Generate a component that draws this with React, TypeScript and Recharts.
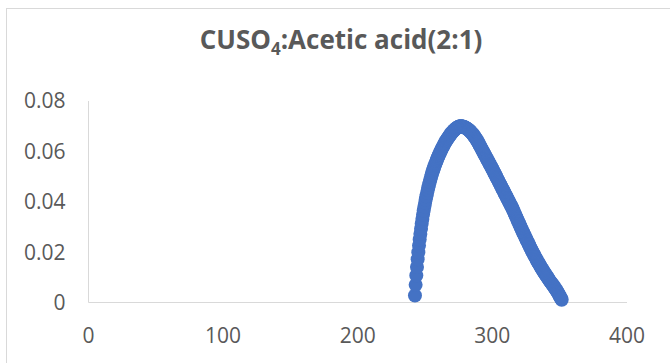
import React from 'react';
import { ScatterChart, Scatter, XAxis, YAxis } from 'recharts';

const xTicks = [0, 100, 200, 300, 400];
const yTicks = [0, 0.02, 0.04, 0.06, 0.08];

const wavelengths = [
  242.5, 243, 243.5, 244, 244.5, 245, 245.5, 246, 246.5, 247, 247.5, 248, 248.5, 249, 249.5, 250,
  250.5, 251, 251.5, 252, 252.5, 253, 253.5, 254, 254.5, 255, 255.5, 256, 256.5, 257, 257.5, 258,
  258.5, 259, 259.5, 260, 260.5, 261, 261.5, 262, 262.5, 263, 263.5, 264, 264.5, 265, 265.5, 266,
  266.5, 267, 267.5, 268, 268.5, 269, 269.5, 270, 270.5, 271, 271.5, 272, 272.5, 273, 273.5, 274,
  274.5, 275, 275.5, 276, 276.5, 277, 277.5, 278, 278.5, 279, 279.5, 280, 280.5, 281, 281.5, 282,
  282.5, 283, 283.5, 284, 284.5, 285, 285.5, 286, 286.5, 287, 287.5, 288, 288.5, 289, 289.5, 290,
  290.5, 291, 291.5, 292, 292.5, 293, 293.5, 294, 294.5, 295, 295.5, 296, 296.5, 297, 297.5, 298,
  298.5, 299, 299.5, 300, 300.5, 301, 301.5, 302, 302.5, 303, 303.5, 304, 304.5, 305, 305.5, 306,
  306.5, 307, 307.5, 308, 308.5, 309, 309.5, 310, 310.5, 311, 311.5, 312, 312.5, 313, 313.5, 314,
  314.5, 315, 315.5, 316, 316.5, 317, 317.5, 318, 318.5, 319, 319.5, 320, 320.5, 321, 321.5, 322,
  322.5, 323, 323.5, 324, 324.5, 325, 325.5, 326, 326.5, 327, 327.5, 328, 328.5, 329, 329.5, 330,
  330.5, 331, 331.5, 332, 332.5, 333, 333.5, 334, 334.5, 335, 335.5, 336, 336.5, 337, 337.5, 338,
  338.5, 339, 339.5, 340, 340.5, 341, 341.5, 342, 342.5, 343, 343.5, 344, 344.5, 345, 345.5, 346,
  346.5, 347, 347.5, 348, 348.5, 349, 349.5, 350, 350.5, 351, 351.5,
];

const absorbance = [
  0.0028, 0.0070, 0.0107, 0.0141, 0.0172, 0.0200, 0.0226, 0.0250, 0.0272, 0.0293, 0.0313, 0.0332, 0.0349, 0.0365, 0.0380, 0.0395,
  0.0409, 0.0422, 0.0435, 0.0447, 0.0458, 0.0469, 0.0479, 0.0489, 0.0499, 0.0508, 0.0517, 0.0525, 0.0533, 0.0541, 0.0548, 0.0555,
  0.0562, 0.0569, 0.0576, 0.0582, 0.0588, 0.0594, 0.0600, 0.0605, 0.0611, 0.0616, 0.0621, 0.0626, 0.0631, 0.0636, 0.0641, 0.0645,
  0.0649, 0.0653, 0.0657, 0.0661, 0.0665, 0.0668, 0.0672, 0.0675, 0.0678, 0.0681, 0.0684, 0.0686, 0.0689, 0.0691, 0.0693, 0.0695,
  0.0697, 0.0698, 0.0699, 0.0700, 0.0700, 0.0700, 0.0699, 0.0699, 0.0698, 0.0697, 0.0696, 0.0694, 0.0693, 0.0691, 0.0689, 0.0687,
  0.0685, 0.0683, 0.0680, 0.0677, 0.0674, 0.0671, 0.0668, 0.0664, 0.0661, 0.0657, 0.0653, 0.0649, 0.0644, 0.0640, 0.0635, 0.0630,
  0.0625, 0.0620, 0.0615, 0.0610, 0.0605, 0.0600, 0.0595, 0.0590, 0.0585, 0.0580, 0.0575, 0.0570, 0.0565, 0.0560, 0.0555, 0.0550,
  0.0545, 0.0540, 0.0535, 0.0530, 0.0525, 0.0519, 0.0514, 0.0509, 0.0504, 0.0498, 0.0493, 0.0488, 0.0483, 0.0477, 0.0472, 0.0467,
  0.0462, 0.0456, 0.0451, 0.0446, 0.0441, 0.0435, 0.0430, 0.0425, 0.0420, 0.0414, 0.0409, 0.0404, 0.0399, 0.0393, 0.0388, 0.0383,
  0.0378, 0.0372, 0.0366, 0.0360, 0.0354, 0.0348, 0.0342, 0.0336, 0.0330, 0.0324, 0.0318, 0.0312, 0.0306, 0.0300, 0.0294, 0.0288,
  0.0282, 0.0276, 0.0271, 0.0265, 0.0259, 0.0253, 0.0248, 0.0242, 0.0237, 0.0231, 0.0226, 0.0220, 0.0215, 0.0209, 0.0204, 0.0199,
  0.0194, 0.0189, 0.0184, 0.0179, 0.0174, 0.0169, 0.0164, 0.0159, 0.0155, 0.0150, 0.0146, 0.0141, 0.0137, 0.0132, 0.0128, 0.0123,
  0.0119, 0.0115, 0.0111, 0.0107, 0.0103, 0.0099, 0.0095, 0.0091, 0.0087, 0.0083, 0.0080, 0.0076, 0.0073, 0.0069, 0.0065, 0.0061,
  0.0057, 0.0053, 0.0049, 0.0045, 0.0040, 0.0036, 0.0031, 0.0026, 0.0021, 0.0016, 0.0011,
];

const data = wavelengths.map((x, i) => ({ x, y: absorbance[i] }));

const MARKER_COLOR = '#4472C4';
const TEXT_COLOR = '#595959';
const AXIS_COLOR = '#D9D9D9';
const FONT = '"Open Sans", sans-serif';

const Dot = (props: any) => {
  if (props.cx == null || props.cy == null) return null;
  return <circle cx={props.cx} cy={props.cy} r={7} fill={MARKER_COLOR} />;
};

export default function App() {
  return (
    <div
      style={{
        position: 'absolute',
        left: 0,
        top: 0,
        width: 670,
        height: 363,
        background: '#fff',
        overflow: 'hidden',
        fontFamily: FONT,
      }}
    >
      <div
        style={{
          position: 'absolute',
          left: 6,
          top: 8,
          width: 700,
          height: 400,
          border: `1px solid ${AXIS_COLOR}`,
        }}
      />
      <div
        style={{
          position: 'absolute',
          left: 6,
          top: 22,
          width: 670,
          textAlign: 'center',
          fontSize: 26,
          lineHeight: '34px',
          fontWeight: 700,
          color: TEXT_COLOR,
          whiteSpace: 'nowrap',
        }}
      >
        CUSO<sub style={{ fontSize: 17, lineHeight: 0 }}>4</sub>:Acetic acid(2:1)
      </div>
      <div style={{ position: 'absolute', left: 0, top: 0 }}>
        <ScatterChart
          width={670}
          height={363}
          margin={{ top: 101, right: 43, bottom: 30.5, left: 0.5 }}
        >
          <XAxis
            type="number"
            dataKey="x"
            domain={[0, 400]}
            ticks={xTicks}
            interval={0}
            tickLine={false}
            tickSize={6}
            tickMargin={20}
            height={30}
            axisLine={{ stroke: AXIS_COLOR, strokeWidth: 1 }}
            tick={{ fill: TEXT_COLOR, fontSize: 21, fontFamily: FONT }}
          />
          <YAxis
            type="number"
            dataKey="y"
            domain={[0, 0.08]}
            ticks={yTicks}
            interval={0}
            tickLine={false}
            tickSize={6}
            tickMargin={17}
            width={88}
            axisLine={{ stroke: AXIS_COLOR, strokeWidth: 1 }}
            tick={{ fill: TEXT_COLOR, fontSize: 21, fontFamily: FONT }}
          />
          <Scatter data={data} shape={Dot} isAnimationActive={false} />
        </ScatterChart>
      </div>
    </div>
  );
}
